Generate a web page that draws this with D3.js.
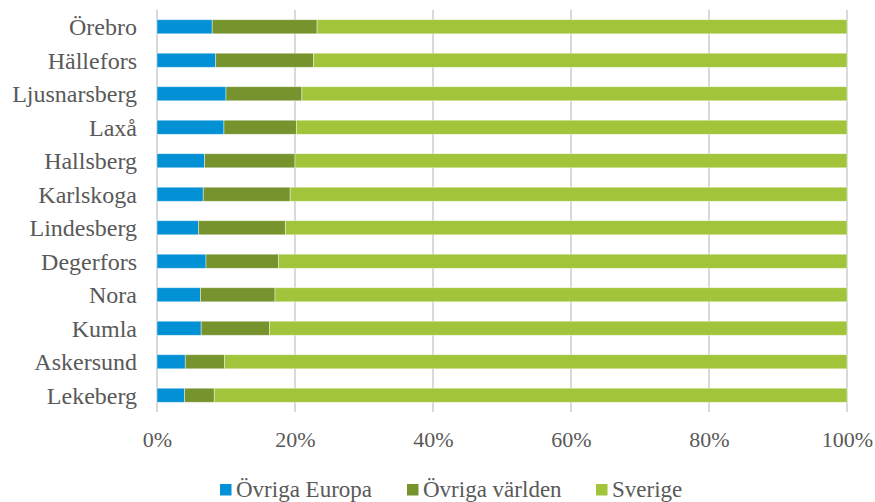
<!DOCTYPE html>
<html>
<head>
<meta charset="utf-8">
<script src="https://cdn.jsdelivr.net/npm/d3@7"></script>
<style>
  body { margin: 0; background: #fff; }
  svg, svg text { font-family: "Liberation Serif", "Times New Roman", serif; }
</style>
</head>
<body>
<div id="chart"></div>
<script>
// kommuner, top to bottom
var kommuner = ["Örebro", "Hällefors", "Ljusnarsberg", "Laxå", "Hallsberg", "Karlskoga",
  "Lindesberg", "Degerfors", "Nora", "Kumla", "Askersund", "Lekeberg"];

// share of population (%) per origin
var ovrigaEuropa = [8.0, 8.5, 10.0, 9.7, 6.9, 6.7, 6.0, 7.1, 6.3, 6.4, 4.1, 4.0];
var ovrigaVarlden = [15.2, 14.2, 11.0, 10.5, 13.1, 12.6, 12.6, 10.5, 10.8, 9.9, 5.7, 4.3];
var sverige = [76.8, 77.3, 79.0, 79.8, 80.0, 80.7, 81.4, 82.4, 82.9, 83.7, 90.2, 91.7];

var seriesNames = ["Övriga Europa", "Övriga världen", "Sverige"];
var seriesColors = ["#0391d5", "#77932e", "#a1c43b"];
var tickValues = [0, 0.2, 0.4, 0.6, 0.8, 1];

var width = 875, height = 502;
var serif = '"Liberation Serif", "Times New Roman", serif';

var rows = kommuner.map(function(k, i) {
  return { kommun: k, "Övriga Europa": ovrigaEuropa[i], "Övriga världen": ovrigaVarlden[i], "Sverige": sverige[i] };
});

var stacked = d3.stack()
  .keys(seriesNames)
  .offset(d3.stackOffsetExpand)(rows);

var svg = d3.select("#chart").append("svg")
  .attr("width", width)
  .attr("height", height);

var x = d3.scaleLinear().domain([0, 1]).range([157, 847]);
var y = d3.scaleBand().domain(kommuner).range([10, 412]).paddingInner(0.58).paddingOuter(0.29);

// gridlines
svg.append("g")
  .selectAll("line")
  .data(tickValues)
  .enter().append("line")
  .attr("x1", function(d) { return x(d); })
  .attr("x2", function(d) { return x(d); })
  .attr("y1", 10)
  .attr("y2", 412)
  .style("stroke", "#d9d9d9")
  .style("stroke-width", 2);

// bars
svg.append("g")
  .selectAll("g")
  .data(stacked)
  .enter().append("g")
  .style("fill", function(d, i) { return seriesColors[i]; })
  .selectAll("rect")
  .data(function(d) { return d; })
  .enter().append("rect")
  .attr("x", function(d) { return x(d[0]); })
  .attr("width", function(d) { return x(d[1]) - x(d[0]); })
  .attr("y", function(d) { return y(d.data.kommun); })
  .attr("height", y.bandwidth())
  .style("stroke", "rgba(255,255,255,0.5)")
  .style("stroke-width", 0.8);

// category labels
svg.append("g")
  .selectAll("text")
  .data(kommuner)
  .enter().append("text")
  .attr("x", 137)
  .attr("y", function(d) { return y(d) + y.bandwidth() / 2 + 8.5; })
  .attr("text-anchor", "end")
  .style("font-family", serif)
  .style("font-size", "24px")
  .style("fill", "#595959")
  .text(function(d) { return d; });

// x axis labels
var xAxis = d3.axisBottom(x)
  .tickValues(tickValues)
  .tickFormat(d3.format(".0%"))
  .tickSize(0)
  .tickPadding(0);

var axisG = svg.append("g")
  .attr("transform", "translate(0,447)")
  .call(xAxis)
  .attr("font-family", serif)
  .attr("font-size", 22);
axisG.select(".domain").remove();
axisG.selectAll("text")
  .attr("dy", 0)
  .attr("y", 0)
  .style("font-family", serif)
  .style("font-size", "22px")
  .style("fill", "#595959");

// legend
var legendX = [220, 407, 596];
var legend = svg.append("g")
  .selectAll("g")
  .data(seriesNames)
  .enter().append("g")
  .attr("transform", function(d, i) { return "translate(" + legendX[i] + ",0)"; });

legend.append("rect")
  .attr("x", 0)
  .attr("y", 484)
  .attr("width", 11.5)
  .attr("height", 11.5)
  .style("fill", function(d, i) { return seriesColors[i]; });

legend.append("text")
  .attr("x", 16)
  .attr("y", 497)
  .style("font-family", serif)
  .style("font-size", "23px")
  .style("fill", "#595959")
  .text(function(d) { return d; });
</script>
</body>
</html>
